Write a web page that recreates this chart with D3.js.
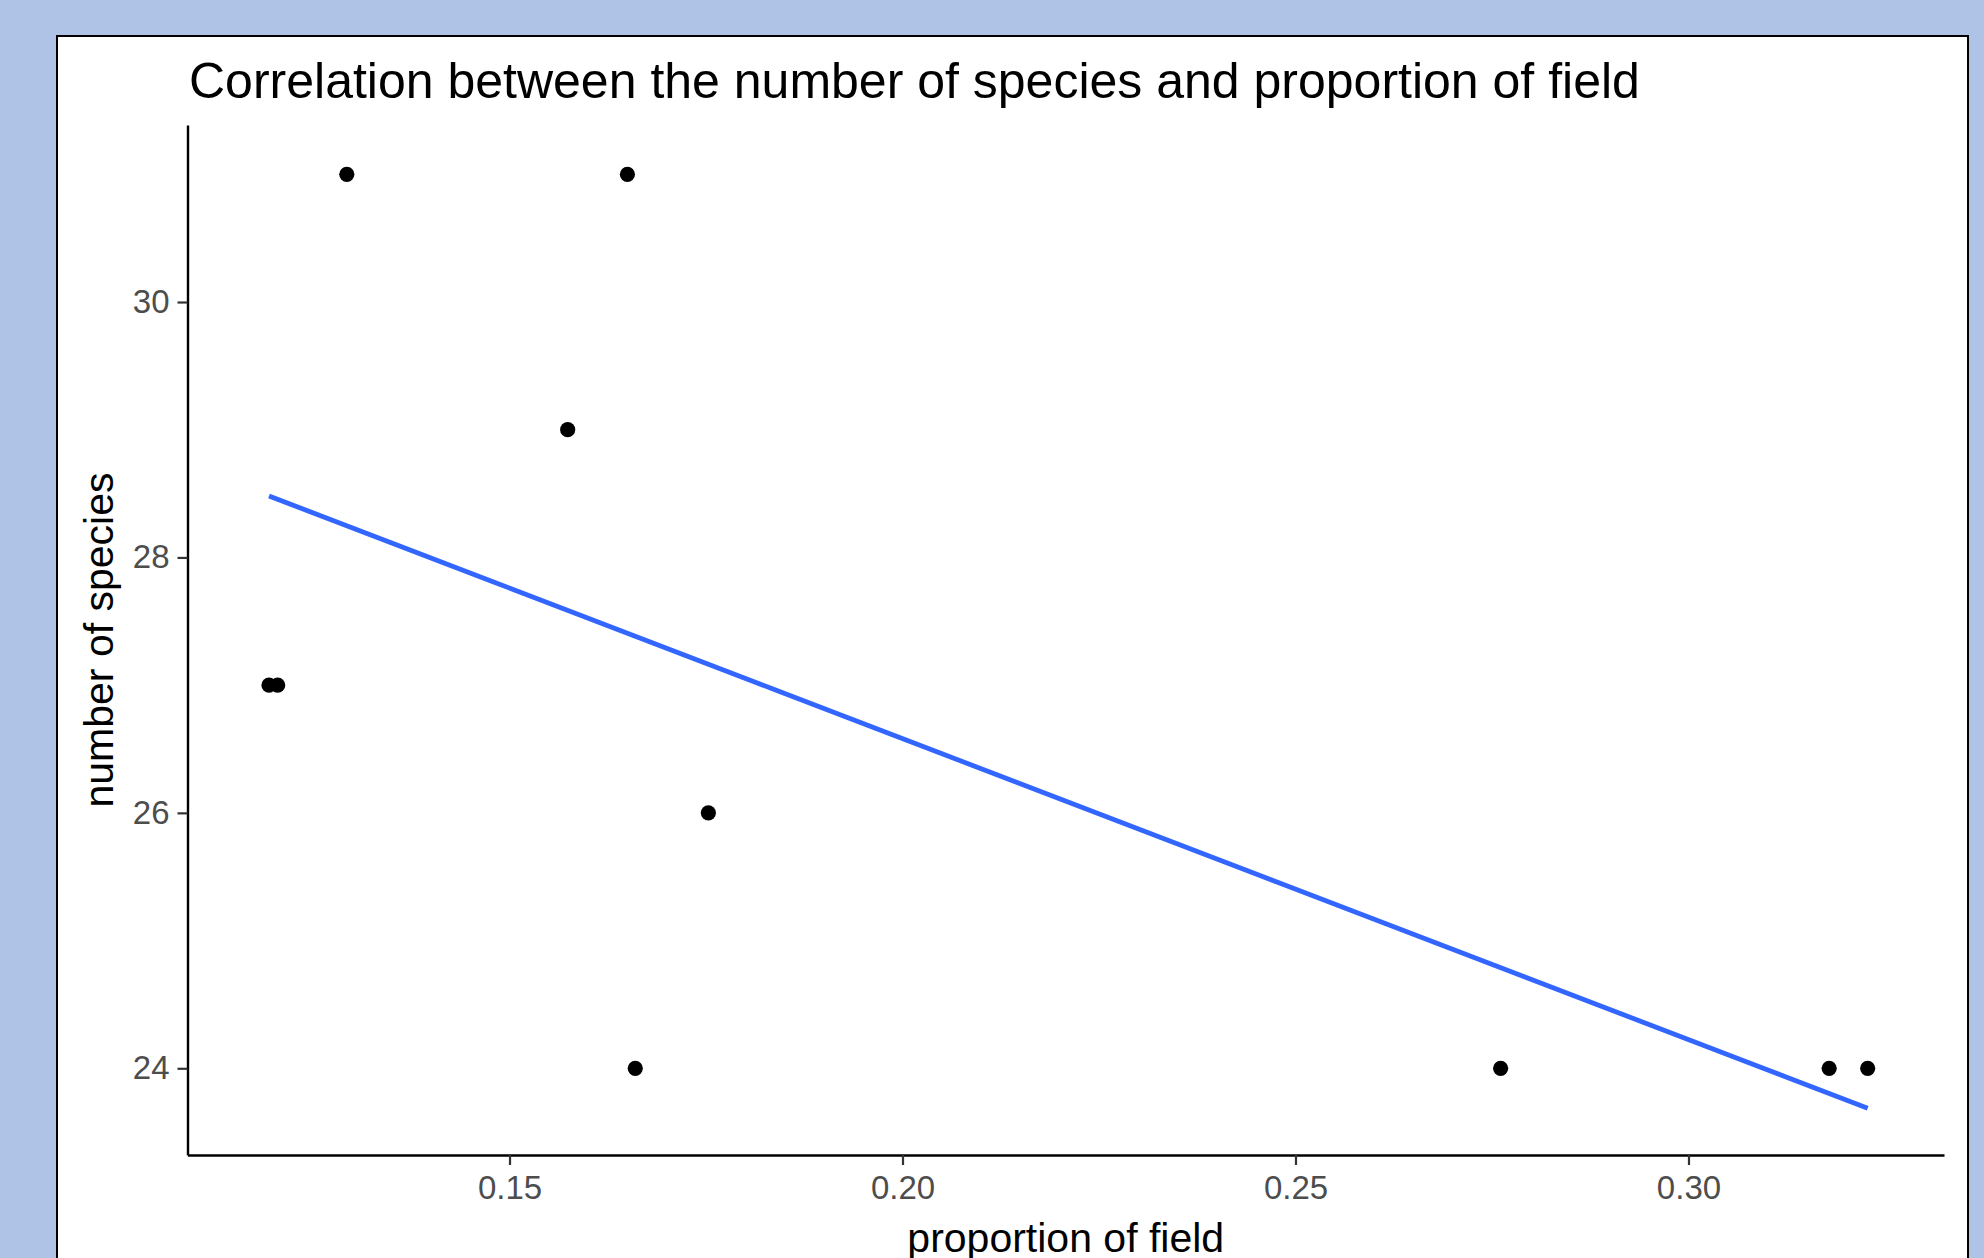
<!DOCTYPE html>
<html>
<head>
<meta charset="utf-8">
<script src="https://cdn.jsdelivr.net/npm/d3@7"></script>
<style>
  html, body { margin: 0; padding: 0; background: #aec3e5; }
  svg { display: block; }
  text { font-family: "Liberation Sans", Arial, sans-serif; }
</style>
</head>
<body>
<svg id="chart" width="1984" height="1258"></svg>
<script>
// proportion of field vs number of species
const fieldProportion = [0.1293, 0.1650, 0.1574, 0.1194, 0.1205, 0.1753, 0.1660, 0.2761, 0.3179, 0.3228];
const speciesCount    = [31, 31, 29, 27, 27, 26, 24, 24, 24, 24];

const xTicks = [0.15, 0.20, 0.25, 0.30];
const yTicks = [24, 26, 28, 30];

const titleText = "Correlation between the number of species and proportion of field";
const xTitle = "proportion of field";
const yTitle = "number of species";

const svg = d3.select("#chart");

// white card
svg.append("rect")
    .attr("x", 57).attr("y", 36)
    .attr("width", 1911).attr("height", 1240)
    .attr("fill", "#fff")
    .attr("stroke", "#000")
    .attr("stroke-width", 2);

const pLeft = 187.5, pRight = 1944, pTop = 125, pBottom = 1155;

const x = d3.scaleLinear().domain([0.10903, 0.33251]).range([pLeft, pRight]);
const y = d3.scaleLinear().domain([23.321, 31.386]).range([pBottom, pTop]);

let points = fieldProportion.map((d, i) => ({x: d, y: speciesCount[i]}));

// axes
let xAxis = svg.append("g")
    .attr("transform", `translate(0,${pBottom})`)
    .call(d3.axisBottom(x).tickValues(xTicks).tickFormat(d3.format(".2f"))
        .tickSizeInner(10).tickSizeOuter(0).tickPadding(8));
let yAxis = svg.append("g")
    .attr("transform", `translate(${pLeft},0)`)
    .call(d3.axisLeft(y).tickValues(yTicks).tickFormat(d3.format("d"))
        .tickSizeInner(10).tickSizeOuter(0).tickPadding(8));

[xAxis, yAxis].forEach(a => {
    a.select(".domain").attr("stroke", "#000").attr("stroke-width", 2.4);
    a.selectAll(".tick line").attr("stroke", "#333").attr("stroke-width", 2.2);
    a.selectAll(".tick text")
        .attr("fill", "#4d4d4d")
        .style("font-size", "33px")
        .style("font-family", '"Liberation Sans", Arial, sans-serif');
});
xAxis.selectAll(".tick text").attr("dy", "0.78em");

// linear fit of the points (geom_smooth method = lm)
let mx = d3.mean(points, d => d.x), my = d3.mean(points, d => d.y);
let slope = d3.sum(points, d => (d.x - mx) * (d.y - my)) / d3.sum(points, d => (d.x - mx) ** 2);
let intercept = my - slope * mx;
let xr = d3.extent(points, d => d.x);
let fit = d3.range(80).map(i => {
    let xv = xr[0] + (xr[1] - xr[0]) * i / 79;
    return {x: xv, y: intercept + slope * xv};
});

svg.append("path")
    .datum(fit)
    .attr("fill", "none")
    .attr("stroke", "#3366FF")
    .attr("stroke-width", 4.8)
    .attr("d", d3.line().x(d => x(d.x)).y(d => y(d.y)));

svg.append("g")
    .selectAll("circle")
    .data(points)
    .enter()
    .append("circle")
    .attr("cx", d => x(d.x))
    .attr("cy", d => y(d.y))
    .attr("r", 7.6)
    .attr("fill", "#000");

// texts
svg.append("text")
    .attr("x", 189).attr("y", 98)
    .style("font-size", "50px")
    .attr("fill", "#000")
    .text(titleText);

svg.append("text")
    .attr("x", (pLeft + pRight) / 2).attr("y", 1252)
    .attr("text-anchor", "middle")
    .style("font-size", "41px")
    .attr("fill", "#000")
    .text(xTitle);

svg.append("text")
    .attr("transform", `translate(113,${(pTop + pBottom) / 2}) rotate(-90)`)
    .attr("text-anchor", "middle")
    .style("font-size", "41px")
    .attr("fill", "#000")
    .text(yTitle);
</script>
</body>
</html>
